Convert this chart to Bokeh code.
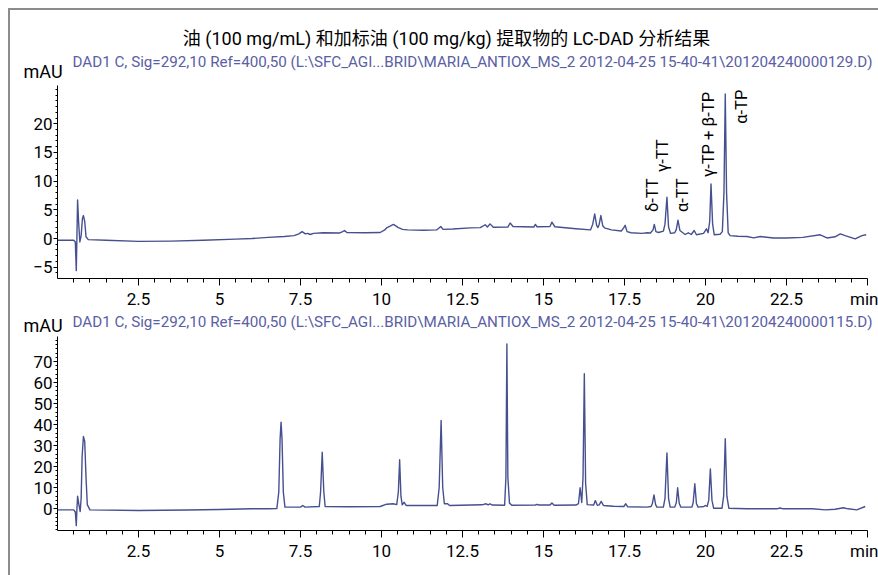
from bokeh.plotting import figure
from bokeh.models import Range1d, FixedTicker, ColumnDataSource
from bokeh.layouts import column
from bokeh.embed import file_html
from bokeh.resources import INLINE
from bokeh.core.properties import value
import math

# ---------------- data ----------------
top_t = [0.0, 0.50, 0.55, 0.58, 0.60, 0.62, 0.65, 0.69, 0.73, 0.77, 0.80, 0.84, 0.88, 0.95,
         1.5, 2.5, 3.5, 4.5, 5.5, 6.0, 6.5, 7.0, 7.3, 7.45, 7.55, 7.65, 7.72, 7.8, 7.9,
         8.2, 8.7, 8.8, 8.86, 8.93, 9.5, 9.96, 10.1, 10.17, 10.25, 10.37, 10.52, 10.65,
         10.8, 11.3, 11.7, 11.75, 11.83, 11.9, 12.2, 12.74, 13.05, 13.2, 13.27, 13.35,
         13.45, 13.9, 13.97, 14.06, 14.7, 14.75, 14.8, 15.2, 15.26, 15.35, 16.0, 16.45,
         16.52, 16.58, 16.64, 16.68, 16.72, 16.77, 16.83, 16.9, 17.1, 17.4, 17.47, 17.52,
         17.58, 17.7, 18.04, 18.2, 18.3, 18.38, 18.42, 18.47, 18.55, 18.7, 18.75, 18.81,
         18.86, 18.92, 19.05, 19.1, 19.15, 19.21, 19.3, 19.37, 19.47, 19.56, 19.65, 19.72,
         19.94, 20.03, 20.08, 20.13, 20.17, 20.22, 20.27, 20.45, 20.52, 20.57, 20.61,
         20.65, 20.70, 20.76, 21.0, 21.28, 21.49, 21.69, 22.1, 22.5, 23.0, 23.54, 23.75,
         24.0, 24.16, 24.31, 24.62, 24.83, 24.96]
top_v = [-0.3, -0.3, -0.6, -5.6, 0.5, 6.7, 3.0, -0.6, 0.5, 3.5, 4.0, 3.0, 0.3, -0.2,
         -0.3, -0.5, -0.45, -0.3, -0.1, 0.0, 0.2, 0.35, 0.5, 0.8, 1.2, 0.8, 0.9, 0.7, 0.9,
         1.0, 0.95, 1.2, 1.4, 1.05, 1.0, 1.05, 1.5, 1.9, 2.1, 2.45, 1.9, 1.6,
         1.5, 1.45, 1.5, 1.7, 2.1, 1.6, 1.65, 1.85, 1.9, 2.4, 2.0, 2.55,
         1.95, 2.0, 2.7, 2.1, 2.0, 2.45, 2.05, 2.1, 2.85, 2.05, 1.7, 1.5,
         2.5, 4.3, 2.3, 1.9, 2.5, 4.0, 2.2, 1.8, 1.5, 1.3, 1.8, 2.3,
         1.2, 1.0, 0.9, 1.0, 0.95, 1.5, 2.45, 1.2, 1.05, 1.3, 2.5, 7.2,
         2.0, 0.9, 1.0, 1.6, 3.2, 1.4, 1.0, 0.7, 1.0, 0.7, 1.4, 0.65,
         0.9, 1.7, 1.0, 3.0, 9.5, 2.5, 0.65, 0.75, 1.2, 8.0, 25.2,
         8.0, 1.0, 0.5, 0.4, 0.35, 0.1, 0.35, 0.1, 0.1, 0.2, 0.65, 0.1,
         0.3, 0.8, 0.5, -0.05, 0.5, 0.65]

bot_t = [0.0, 0.50, 0.55, 0.58, 0.60, 0.62, 0.66, 0.70, 0.73, 0.76, 0.80, 0.84, 0.88, 0.92,
         1.0, 2.5, 4.0, 5.0, 6.0, 6.5, 6.77, 6.83, 6.87, 6.9, 6.93, 6.97, 7.02, 7.5, 7.57,
         7.64, 8.08, 8.12, 8.17, 8.22, 8.26, 9.0, 9.96, 10.16, 10.36, 10.47, 10.52, 10.56,
         10.60, 10.64, 10.70, 10.76, 11.72, 11.78, 11.84, 11.89, 11.94, 12.04, 12.1, 13.1,
         13.23, 13.29, 13.35, 13.42, 13.8, 13.84, 13.87, 13.9, 13.95, 14.02, 14.75, 14.8,
         14.85, 15.2, 15.26, 15.33, 16.0, 16.08, 16.13, 16.18, 16.22, 16.26, 16.30, 16.35,
         16.55, 16.6, 16.66, 16.72, 16.78, 16.85, 17.16, 17.48, 17.54, 17.6, 18.19, 18.32,
         18.36, 18.41, 18.46, 18.5, 18.7, 18.75, 18.81, 18.86, 18.91, 19.05, 19.1, 19.14,
         19.19, 19.24, 19.58, 19.62, 19.67, 19.72, 19.77, 19.95, 19.99, 20.05, 20.1, 20.15,
         20.2, 20.25, 20.51, 20.56, 20.61, 20.66, 20.72, 21.28, 22.2, 22.3, 22.4, 23.3,
         23.7, 24.0, 24.26, 24.4, 24.67, 24.93]
bot_v = [-0.5, -0.5, -1.5, -8.0, 0.0, 6.0, 2.0, -1.3, 5.0, 25.0, 34.4, 32.0, 15.0, 2.0,
         -0.5, -0.8, -0.6, -0.3, 0.0, 0.0, 0.1, 8.0, 33.0, 41.2, 33.0, 8.0, 0.8, 0.8, 1.6,
         0.8, 1.1, 8.0, 26.9, 8.0, 1.1, 0.95, 1.1, 2.2, 2.4, 2.0, 8.0, 23.3,
         6.0, 1.9, 3.1, 1.6, 1.6, 10.0, 42.0, 10.0, 2.4, 2.4, 1.6, 1.9,
         2.4, 1.9, 2.4, 1.8, 1.7, 15.0, 78.4, 15.0, 2.7, 1.7, 1.8, 2.1,
         1.8, 1.8, 2.8, 1.7, 1.8, 2.5, 10.0, 3.0, 15.0, 64.2, 12.0, 2.0,
         1.8, 3.9, 1.7, 1.9, 3.5, 1.6, 1.2, 1.1, 2.4, 0.95, 0.8, 1.1,
         2.5, 6.6, 2.0, 0.8, 0.8, 5.0, 26.6, 5.0, 0.8, 0.8, 3.0, 10.0,
         2.5, 0.8, 0.8, 3.0, 11.9, 2.5, 0.8, 1.1, 1.6, 1.1, 4.0, 19.0,
         4.0, 0.3, 0.3, 6.0, 33.3, 6.0, 0.3, 0.0, 0.0, 0.4, 0.0, 0.0,
         -0.5, -0.2, 0.5, 0.0, -0.5, 1.1]

x_ticks = [2.5, 5, 7.5, 10, 12.5, 15, 17.5, 20, 22.5, 25]
x_unit_label = {25: "min"}
top_y_ticks = [-5, 0, 5, 10, 15, 20]
bot_y_ticks = [0, 10, 20, 30, 40, 50, 60, 70]

peak_names = ["δ-TT", "γ-TT", "α-TT", "γ-TP + β-TP", "α-TP"]

title_text = "油 (100 mg/mL) 和加标油 (100 mg/kg) 提取物的 LC-DAD 分析结果"
top_signal = "DAD1 C, Sig=292,10 Ref=400,50 (L:\\SFC_AGI...BRID\\MARIA_ANTIOX_MS_2 2012-04-25 15-40-41\\201204240000129.D)"
bot_signal = "DAD1 C, Sig=292,10 Ref=400,50 (L:\\SFC_AGI...BRID\\MARIA_ANTIOX_MS_2 2012-04-25 15-40-41\\201204240000115.D)"
y_unit = "mAU"

# ---------------- layout / style ----------------
LINE = "#46508f"
SUB = "#5a60a4"
FONT = "Roboto"
CJK = "Roboto, 'Noto Sans CJK SC'"
W = 868
TICK_FS = "17px"

# peak-label anchor positions (annotation layout, in axis units)
label_x = [18.35, 18.67, 19.29, 20.09, 21.12]
label_y = [4.6, 11.6, 4.6, 10.7, 20.0]

x_minor = [i * 0.5 for i in range(1, 50)]


def header(height):
    h = figure(width=W, height=height, x_range=Range1d(0, W), y_range=Range1d(height, 0),
               output_backend="svg", toolbar_location=None,
               x_axis_location=None, y_axis_location=None,
               min_border=0, frame_align=False)
    h.outline_line_color = None
    h.grid.visible = False
    return h


def panel(height, bbottom, yr, yticks, yminor):
    p = figure(width=W, height=height, x_range=Range1d(0, 25), y_range=Range1d(*yr),
               output_backend="svg", toolbar_location=None,
               min_border_left=47, min_border_right=11,
               min_border_top=0, min_border_bottom=bbottom)
    p.outline_line_color = None
    p.grid.visible = False

    xa = p.xaxis[0]
    xa.ticker = FixedTicker(ticks=x_ticks, minor_ticks=x_minor)
    xa.major_label_overrides = x_unit_label
    xa.major_tick_out = 7
    xa.major_tick_in = 0
    xa.minor_tick_out = 4
    xa.minor_tick_in = 0
    xa.major_label_standoff = 3
    xa.major_label_text_font = FONT
    xa.major_label_text_font_size = TICK_FS
    xa.major_label_text_color = "black"
    xa.axis_line_color = "black"
    xa.major_tick_line_color = "black"
    xa.minor_tick_line_color = "black"

    ya = p.yaxis[0]
    ya.ticker = FixedTicker(ticks=yticks, minor_ticks=yminor)
    ya.major_tick_out = 4
    ya.major_tick_in = 0
    ya.minor_tick_out = 2
    ya.minor_tick_in = 0
    ya.major_label_standoff = 1
    ya.major_label_text_font = FONT
    ya.major_label_text_font_size = TICK_FS
    ya.major_label_text_color = "black"
    ya.axis_line_color = "black"
    ya.major_tick_line_color = "black"
    ya.minor_tick_line_color = "black"
    return p


# header of top panel: title, signal description, unit
h1 = header(75)
h1.text(x=[436], y=[28], text=[title_text], text_align="center", text_baseline="middle",
        text_font=value(CJK), text_font_size="18px", text_color="black")
h1.text(x=[62], y=[51], text=[top_signal], text_align="left", text_baseline="middle",
        text_font=value(FONT), text_font_size="15.2px", text_color=SUB)
h1.text(x=[13], y=[61], text=[y_unit], text_align="left", text_baseline="middle",
        text_font=value(FONT), text_font_size="18px", text_color="black")

# top panel
p1 = panel(227, 34, (-6.97, 26.67), top_y_ticks, list(range(-7, 27)))
p1.line(top_t, top_v, line_color=LINE, line_width=1.4, line_join="round")
src = ColumnDataSource(dict(x=label_x, y=label_y, t=peak_names))
p1.text(x="x", y="y", text="t", source=src, angle=math.pi / 2,
        text_align="left", text_baseline="middle",
        text_font=value(FONT), text_font_size="16.5px", text_color="black")

# header of bottom panel
h2 = header(24)
h2.text(x=[62], y=[9], text=[bot_signal], text_align="left", text_baseline="middle",
        text_font=value(FONT), text_font_size="15.2px", text_color=SUB)
h2.text(x=[13], y=[12.5], text=[y_unit], text_align="left", text_baseline="middle",
        text_font=value(FONT), text_font_size="18px", text_color="black")

# bottom panel
p2 = panel(239, 45, (-10.31, 81.9), bot_y_ticks, list(range(-10, 82, 2)))
p2.line(bot_t, bot_v, line_color=LINE, line_width=1.4, line_join="round")

layout = column(h1, p1, h2, p2, spacing=0,
                styles={"margin-left": "8px", "margin-top": "8px",
                        "border-left": "2px solid #8c8c8c", "border-top": "2px solid #8c8c8c"})

open("out.html", "w").write(file_html(layout, INLINE))
